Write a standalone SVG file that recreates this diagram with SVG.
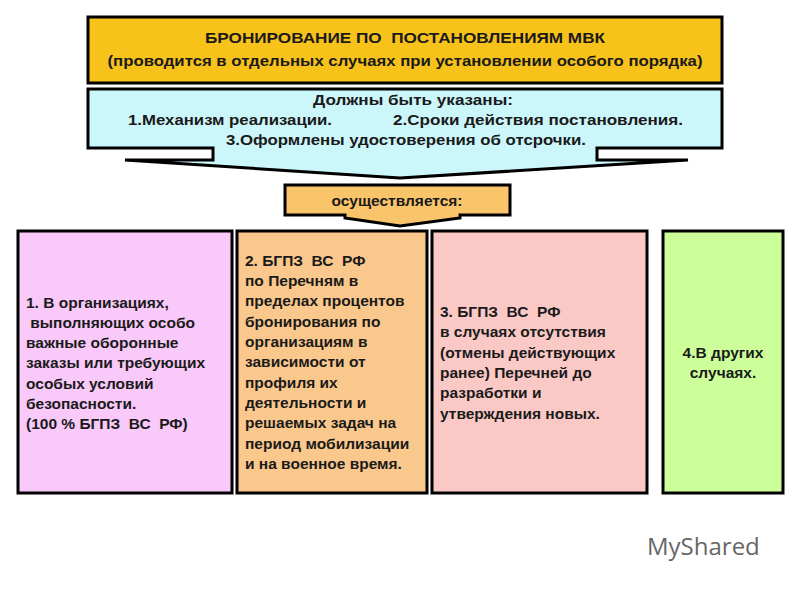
<svg xmlns="http://www.w3.org/2000/svg" width="800" height="593" viewBox="0 0 800 593" xml:space="preserve">
<style>
text{white-space:pre}
.b{stroke:#000;stroke-width:3}
.t{font-family:"Liberation Sans",Arial,sans-serif;font-weight:bold;font-size:15.5px;fill:#1a1a1a}
.n{font-family:"Liberation Sans Narrow","Liberation Sans",Arial,sans-serif;font-weight:bold;font-size:15.5px;fill:#1a1a1a}
</style>
<rect width="800" height="593" fill="#fff"/>
<g id="title">
<rect class="b" x="88" y="17" width="634" height="66" fill="#F7C21A"/>
<text class="n" x="405" y="43" text-anchor="middle" textLength="400" lengthAdjust="spacingAndGlyphs">БРОНИРОВАНИЕ ПО  ПОСТАНОВЛЕНИЯМ МВК</text>
<text class="n" x="405" y="66" text-anchor="middle" textLength="595" lengthAdjust="spacingAndGlyphs">(проводится в отдельных случаях при установлении особого порядка)</text>
</g>
<g id="requirements">
<polygon class="b" points="88,89 722,89 722,148 597,148 597,160 688,160 400,178 125,160 213,160 213,148 88,148" fill="#CCF7FA"/>
<text class="n" x="413" y="105" text-anchor="middle" textLength="200" lengthAdjust="spacingAndGlyphs">Должны быть указаны:</text>
<text class="n" x="128" y="125" textLength="204" lengthAdjust="spacingAndGlyphs">1.Механизм реализации.</text>
<text class="n" x="393" y="125" textLength="290" lengthAdjust="spacingAndGlyphs">2.Сроки действия постановления.</text>
<text class="n" x="406" y="145" text-anchor="middle" textLength="360" lengthAdjust="spacingAndGlyphs">3.Оформлены удостоверения об отсрочки.</text>
</g>
<g id="carried">
<polygon class="b" points="285,185 510,185 510,215 460,215 460,218 400,226 345,218 345,215 285,215" fill="#F9C46A"/>
<text class="t" x="397" y="206" text-anchor="middle">осуществляется:</text>
</g>
<g id="box1">
<rect class="b" x="18" y="231" width="214" height="262" fill="#F9C9F9"/>
<text class="t" x="26" y="308">1. В организациях,</text>
<text class="t" x="26" y="328"> выполняющих особо</text>
<text class="t" x="26" y="348">важные оборонные</text>
<text class="t" x="26" y="368">заказы или требующих</text>
<text class="t" x="26" y="389">особых условий</text>
<text class="t" x="26" y="409">безопасности.</text>
<text class="t" x="26" y="429">(100 % БГПЗ  ВС  РФ)</text>
</g>
<g id="box2">
<rect class="b" x="237" y="231" width="190" height="262" fill="#FAC88C"/>
<text class="t" x="245" y="266">2. БГПЗ  ВС  РФ</text>
<text class="t" x="245" y="286">по Перечням в</text>
<text class="t" x="245" y="306">пределах процентов</text>
<text class="t" x="245" y="327">бронирования по</text>
<text class="t" x="245" y="347">организациям в</text>
<text class="t" x="245" y="367">зависимости от</text>
<text class="t" x="245" y="388">профиля их</text>
<text class="t" x="245" y="408">деятельности и</text>
<text class="t" x="245" y="428">решаемых задач на</text>
<text class="t" x="245" y="449">период мобилизации</text>
<text class="t" x="245" y="469">и на военное время.</text>
</g>
<g id="box3">
<rect class="b" x="432" y="231" width="215" height="262" fill="#FAC9C6"/>
<text class="t" x="440" y="317">3. БГПЗ  ВС  РФ</text>
<text class="t" x="440" y="337">в случаях отсутствия</text>
<text class="t" x="440" y="358">(отмены действующих</text>
<text class="t" x="440" y="378">ранее) Перечней до</text>
<text class="t" x="440" y="398">разработки и</text>
<text class="t" x="440" y="419">утверждения новых.</text>
</g>
<g id="box4">
<rect class="b" x="663" y="231" width="120" height="262" fill="#CCFF99"/>
<text class="t" x="723" y="358" text-anchor="middle">4.В других</text>
<text class="t" x="723" y="378" text-anchor="middle">случаях.</text>
</g>
<g id="connectors"></g>
<text x="647" y="555" font-family="'Open Sans','DejaVu Sans',sans-serif" font-size="24" fill="#666">MyShared</text>
</svg>
